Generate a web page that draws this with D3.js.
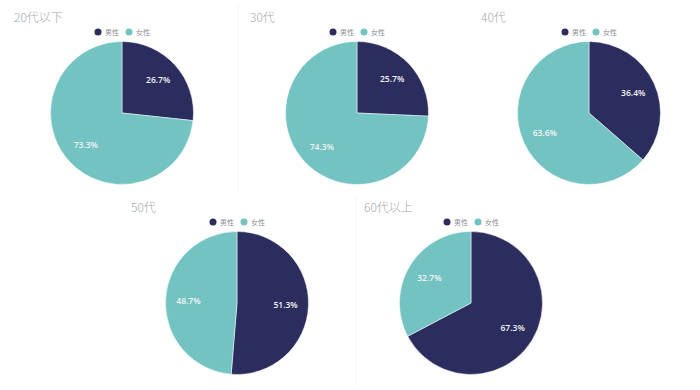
<!DOCTYPE html>
<html>
<head>
<meta charset="utf-8">
<script src="https://cdn.jsdelivr.net/npm/d3@7"></script>
<style>
  body { margin: 0; background: #fff; }
  svg { display: block; font-family: "Noto Sans CJK JP", "Noto Sans", sans-serif; }
</style>
</head>
<body>
<div id="chart"></div>
<script>
// Data
const groups = ["20代以下", "30代", "40代", "50代", "60代以上"];
const genders = ["男性", "女性"];
const male = [26.7, 25.7, 36.4, 51.3, 67.3];
const female = [73.3, 74.3, 63.6, 48.7, 32.7];

const width = 700, height = 390;
const colors = ["#2b2d5e", "#72c3c1"];

// panel layout: pie centre, title position
const panels = [
  {cx: 122, cy: 113, tx: 14, ty: 22, ly: 32},
  {cx: 357, cy: 113, tx: 250, ty: 22, ly: 32},
  {cx: 589, cy: 113, tx: 481, ty: 22, ly: 32},
  {cx: 237, cy: 303, tx: 131, ty: 212, ly: 222},
  {cx: 471, cy: 303, tx: 364, ty: 212, ly: 222}
];
const r = 71.5;

const svg = d3.select("#chart").append("svg")
    .attr("width", width)
    .attr("height", height);

// faint separators
const sep = [[238, 4, 238, 193], [356, 196, 356, 386]];
svg.selectAll("line.sep")
    .data(sep)
    .enter()
    .append("line")
    .attr("class", "sep")
    .attr("x1", d => d[0]).attr("y1", d => d[1])
    .attr("x2", d => d[2]).attr("y2", d => d[3])
    .style("stroke", "#f7f7f7")
    .style("stroke-width", 1);

const pie = d3.pie().sort(null).value(d => d.value);
const arc = d3.arc().innerRadius(0).outerRadius(r);
const labelArc = d3.arc().innerRadius(r * 0.68).outerRadius(r * 0.68);

groups.forEach((g, i) => {
  const p = panels[i];
  const rows = [
    {name: genders[0], value: male[i]},
    {name: genders[1], value: female[i]}
  ];

  svg.append("text")
      .attr("x", p.tx)
      .attr("y", p.ty)
      .style("font-size", "12px")
      .style("font-weight", 300)
      .style("fill", "#a3a9ae")
      .text(g);

  // legend
  const leg = svg.append("g")
      .attr("transform", `translate(${p.cx - 24},${p.ly})`);
  genders.forEach((s, j) => {
    leg.append("circle")
        .attr("cx", j * 31)
        .attr("cy", 0)
        .attr("r", 3.5)
        .style("fill", colors[j]);
    leg.append("text")
        .attr("x", j * 31 + 7)
        .attr("y", 2.5)
        .style("font-size", "7px")
        .style("fill", "#8a8f94")
        .text(s);
  });

  const gp = svg.append("g")
      .attr("transform", `translate(${p.cx},${p.cy})`);

  gp.selectAll("path")
      .data(pie(rows))
      .enter()
      .append("path")
      .attr("d", arc)
      .style("fill", (d, j) => colors[j])
      .style("stroke", "#fff")
      .style("stroke-width", 0.5);

  gp.selectAll("text")
      .data(pie(rows))
      .enter()
      .append("text")
      .attr("transform", d => `translate(${labelArc.centroid(d)})`)
      .attr("text-anchor", "middle")
      .attr("dy", "0.35em")
      .style("font-size", "8.5px")
      .style("font-family", "'Open Sans', 'Noto Sans', sans-serif")
      .style("font-weight", 600)
      .style("fill", "#f4f4f4")
      .text(d => d.data.value.toFixed(1) + "%");
});
</script>
</body>
</html>
